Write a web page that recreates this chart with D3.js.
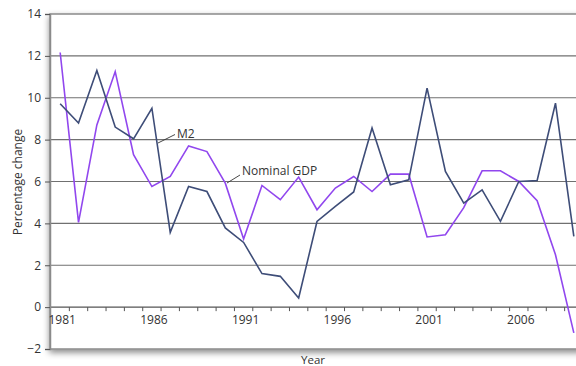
<!DOCTYPE html>
<html><head><meta charset="utf-8">
<script src="https://cdn.jsdelivr.net/npm/d3@7"></script>
<style>
html,body{margin:0;padding:0;background:#fff;overflow:hidden}
svg{display:block;font-family:"Open Sans",sans-serif}
</style></head>
<body>
<script>
const years = d3.range(1981, 2010);
const m2 = [9.71,8.79,11.3,8.6,8.04,9.5,3.57,5.76,5.52,3.78,3.09,1.6,1.47,0.44,4.09,4.81,5.5,8.55,5.84,6.08,10.46,6.48,4.97,5.6,4.1,6.0,6.05,9.74,3.38];
const gdp = [12.16,4.05,8.7,11.25,7.28,5.76,6.24,7.7,7.43,5.92,3.25,5.81,5.13,6.21,4.65,5.69,6.24,5.52,6.35,6.35,3.35,3.46,4.75,6.51,6.51,6.0,5.08,2.5,-1.23];
const yTicks = [-2,0,2,4,6,8,10,12,14];
const xTickLabels = [1981,1986,1991,1996,2001,2006];

const W=576,H=366;
const svg=d3.select("body").append("svg").attr("width",W).attr("height",H);
const x=d3.scaleLinear().domain([1980.5,2009.5]).range([51,583]);
const y=d3.scaleLinear().domain([-2,14]).range([349,14]);

const defs=svg.append("defs");
const f=defs.append("filter").attr("id","sh").attr("x","-10%").attr("y","-10%").attr("width","120%").attr("height","120%");
f.append("feDropShadow").attr("dx",0).attr("dy",3).attr("stdDeviation",3).attr("flood-color","#000").attr("flood-opacity",0.45);

// frame
svg.append("rect").attr("x",50).attr("y",y(14)).attr("width",540).attr("height",y(-2)-y(14))
  .attr("fill","#fff").attr("stroke","#8a8a8a").attr("stroke-width",1.5).attr("filter","url(#sh)");

// gridlines
svg.append("g").selectAll("line").data(yTicks.filter(v=>v>-2&&v<14)).join("line")
  .attr("x1",50).attr("x2",590).attr("y1",d=>y(d)).attr("y2",d=>y(d))
  .attr("stroke",d=>d===0?"#555":"#707070").attr("stroke-width",1.1);

// y axis ticks + labels
const ya=svg.append("g").attr("transform","translate(50,0)")
  .call(d3.axisLeft(y).tickValues(yTicks).tickSize(5).tickPadding(4).tickFormat(d=>d<0?"\u2212"+Math.abs(d):d));
ya.select(".domain").attr("stroke","#8a8a8a").attr("stroke-width",1.5);
ya.selectAll(".tick line").attr("stroke","#555");
ya.selectAll("text").attr("font-size",12).attr("fill","#333").attr("font-family","Open Sans");

// x axis ticks at half years on zero line
const halfTicks=d3.range(1981.5,2009.6,1);
svg.append("g").selectAll("line").data(halfTicks).join("line")
  .attr("x1",d=>x(d)).attr("x2",d=>x(d)).attr("y1",y(0)).attr("y2",y(0)+4)
  .attr("stroke","#555").attr("stroke-width",1);
svg.append("g").selectAll("text").data(xTickLabels).join("text")
  .attr("x",d=>x(d)+2).attr("y",y(0)+17).attr("text-anchor","middle")
  .attr("font-size",12).attr("fill","#333").text(d=>d);

// lines
const line=d3.line().x((d,i)=>x(years[i])).y(d=>y(d));
svg.append("path").datum(gdp).attr("d",line).attr("fill","none").attr("stroke","#9147ee").attr("stroke-width",1.6);
svg.append("path").datum(m2).attr("d",line).attr("fill","none").attr("stroke","#3e4d78").attr("stroke-width",1.6);

// annotations
svg.append("line").attr("x1",158).attr("y1",143).attr("x2",175).attr("y2",134.5).attr("stroke","#333").attr("stroke-width",0.9);
svg.append("text").attr("x",177).attr("y",138).attr("font-size",12).attr("fill","#333").text("M2");
svg.append("line").attr("x1",227).attr("y1",183).attr("x2",240).attr("y2",175).attr("stroke","#333").attr("stroke-width",0.9);
svg.append("text").attr("x",242).attr("y",175).attr("font-size",12).attr("fill","#333").text("Nominal GDP");

// axis titles
svg.append("text").attr("transform","translate(22,182) rotate(-90)").attr("text-anchor","middle")
  .attr("font-size",12).attr("fill","#333").text("Percentage change");
svg.append("text").attr("x",313).attr("y",364).attr("text-anchor","middle")
  .attr("font-size",11.5).attr("fill","#333").text("Year");
</script>
</body></html>
